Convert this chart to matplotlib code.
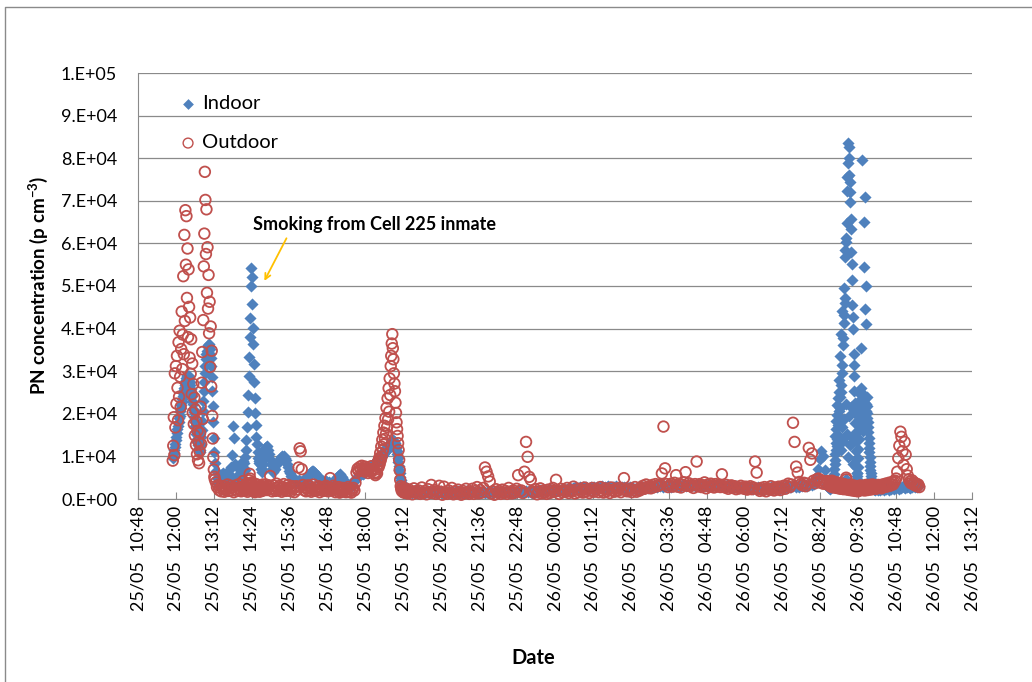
import numpy as np
import pandas as pd
import matplotlib.pyplot as plt
import matplotlib.dates as mdates
from matplotlib.lines import Line2D
from matplotlib.ticker import FuncFormatter

# logger blocks: start time and averaging interval (minutes); values in 10^3 p cm-3
block_starts = ["2013-05-25 11:54", "2013-05-25 13:14", "2013-05-25 14:09", "2013-05-25 14:49",
                "2013-05-25 18:20", "2013-05-25 19:20", "2013-05-26 08:41", "2013-05-26 10:06"]
block_steps = [1, 2, 1, 2, 1, 3, 0.5, 2]

indoor_1 = [9.6, 10.2, 10.8, 11.5, 12.3, 13.0, 13.8, 14.5, 15.6, 16.4,
            17.2, 18.0, 18.9, 19.5, 20.6, 21.3, 22.0, 22.8, 23.5, 24.1,
            24.9, 25.6, 26.0, 26.8, 27.2, 27.9, 28.3, 28.8, 29.2, 28.6,
            28.9, 28.1, 27.4, 26.8, 25.9, 25.0, 24.2, 23.1, 22.3, 21.2,
            20.4, 19.3, 18.1, 17.2, 16.0, 15.2, 14.1, 13.3, 12.6, 12.0,
            11.4, 11.1, 11.6, 12.8, 14.5, 16.3, 18.4, 20.7, 23.0, 25.4,
            27.5, 29.6, 31.3, 32.8, 34.0, 34.8, 35.6, 36.2, 36.4, 36.0,
            35.2, 34.0, 33.0, 31.2, 28.6, 25.4, 21.8, 18.0, 14.3, 11.0]
outdoor_1 = [9.0, 12.5, 19.2, 10.3, 29.5, 16.8, 31.2, 22.4, 33.6, 26.1,
             18.5, 36.8, 24.0, 39.5, 28.7, 21.6, 35.2, 44.0, 30.5, 38.6,
             52.3, 34.0, 62.0, 41.8, 67.8, 55.0, 66.4, 47.2, 58.8, 38.0,
             53.9, 45.1, 33.2, 42.6, 29.4, 37.5, 24.6, 31.8, 20.3, 27.0,
             17.6, 23.8, 14.9, 21.0, 12.7, 18.2, 10.5, 16.0, 9.1, 13.4,
             8.4, 11.2, 15.5, 21.7, 12.9, 27.3, 34.5, 18.8, 42.0, 54.6,
             62.3, 76.8, 70.2, 57.5, 68.0, 48.4, 59.1, 44.7, 52.6, 38.9,
             46.3, 31.0, 40.5, 26.4, 34.8, 19.5, 14.2, 9.8, 6.9, 5.2]

indoor_2 = [8.4, 6.6, 5.0, 3.9, 3.3, 3.6, 4.6, 5.8, 6.1, 5.0,
            4.1, 3.5, 4.4, 5.8, 7.0, 7.4, 10.3, 17.2, 14.4, 8.1,
            5.2, 4.5, 5.1, 5.6, 6.9, 7.8, 6.2, 8.9]
outdoor_2 = [4.6, 3.9, 2.8, 3.3, 2.1, 2.6, 1.8, 3.0, 2.4, 1.7,
             2.9, 2.2, 3.4, 1.9, 2.5, 3.1, 2.0, 2.7, 1.6, 2.3,
             3.2, 1.9, 2.6, 3.5, 2.2, 1.8, 2.8, 4.2]

indoor_3 = [7.2, 8.5, 6.9, 9.8, 11.6, 13.9, 16.8, 20.5, 24.3, 28.9,
            33.4, 38.1, 42.6, 49.9, 54.2, 52.1, 45.8, 40.2, 36.5, 31.7,
            27.4, 23.8, 20.1, 17.3, 14.6, 12.9, 11.0, 9.6, 8.4, 9.0,
            10.1, 9.2, 8.0, 7.1, 6.3, 7.0, 8.2, 9.4, 10.6, 11.5]
outdoor_3 = [2.3, 3.1, 1.9, 2.6, 3.4, 2.2, 2.8, 1.7, 3.6, 2.5,
             4.4, 5.9, 4.8, 3.2, 2.4, 3.9, 2.1, 2.7, 1.8, 3.0,
             2.4, 1.6, 2.9, 3.5, 2.2, 1.9, 2.6, 3.3, 2.0, 2.8,
             1.7, 2.4, 3.1, 2.2, 2.7, 1.9, 3.4, 2.5, 2.1, 2.9]

# afternoon, one row per hour starting 14:49
indoor_4 = [12.0, 12.3, 12.4, 11.6, 10.6, 9.4, 8.2, 7.1, 6.4, 6.8,
            7.1, 7.9, 8.6, 9.1, 9.5, 9.9, 10.1, 9.8, 10.2, 9.6,
            9.1, 8.2, 7.4, 6.6, 6.0, 5.5, 5.1, 4.7, 4.5, 4.8,
            4.2, 3.8, 4.4, 3.6, 4.0, 3.3, 3.9, 4.6, 3.7, 4.1,
            4.7, 5.2, 5.6, 6.0, 6.3, 6.5, 6.6, 6.4, 6.1, 5.7,
            5.3, 4.8, 4.4, 4.1, 3.8, 4.2, 3.5, 3.9, 4.3, 4.0,
            3.6, 4.1, 3.4, 3.0, 3.7, 3.3, 3.9, 4.4, 4.9, 5.3,
            5.6, 5.8, 5.5, 5.1, 4.6, 4.2, 3.8, 3.6, 3.1, 2.8,
            3.3, 2.6, 3.0, 3.4, 3.9, 4.3, 4.6, 4.9, 5.2, 5.6,
            5.9, 6.3, 6.1, 5.8, 6.2, 6.4, 6.6, 6.9, 7.0, 7.1,
            7.4, 7.6, 7.8, 8.0, 8.3, 8.7]
outdoor_4 = [2.6, 3.4, 2.1, 2.9, 3.2, 5.4, 2.4, 1.8, 3.2, 2.4,
             1.9, 3.6, 2.7, 2.0, 3.1, 2.3, 1.7, 2.8, 3.5, 2.2,
             1.9, 2.6, 3.3, 2.0, 2.7, 1.8, 3.0, 2.4, 1.6, 2.9,
             3.0, 2.2, 7.4, 11.9, 11.2, 7.0, 3.3, 2.1, 2.7, 1.8,
             2.4, 3.2, 2.0, 2.9, 1.7, 2.5, 3.4, 2.2, 1.9, 2.8,
             2.1, 3.0, 1.6, 2.6, 2.3, 1.9, 2.7, 2.0, 3.1, 2.4,
             1.8, 2.7, 4.9, 2.4, 2.0, 3.1, 2.3, 1.6, 2.5, 1.9,
             2.8, 1.5, 2.2, 1.7, 2.6, 1.9, 2.4, 1.6, 2.2, 2.8,
             1.7, 2.4, 1.5, 2.1, 2.6, 2.0, 3.8, 6.2, 7.1, 6.6,
             7.5, 6.9, 7.8, 7.2, 6.5, 7.6, 6.8, 7.3, 6.1, 7.0,
             6.4, 7.7, 6.6, 7.1, 6.0, 5.6]

indoor_5 = [8.9, 9.2, 8.6, 9.4, 9.0, 9.7, 9.3, 10.0, 9.5, 10.3,
            9.8, 10.6, 10.1, 10.9, 10.4, 11.2, 10.8, 11.5, 11.1, 11.9,
            11.4, 12.2, 11.8, 12.5, 12.1, 12.8, 12.4, 13.1, 12.7, 13.4,
            13.0, 13.6, 13.2, 13.8, 13.4, 13.5, 13.1, 12.6, 12.0, 11.3,
            10.5, 9.6, 8.7, 7.8, 6.9, 6.0, 5.2, 4.5, 3.9, 3.4,
            3.0, 2.7, 2.5, 2.3, 2.2, 2.0, 2.1, 1.9, 2.0, 1.8]
outdoor_5 = [6.3, 7.0, 6.0, 7.9, 8.8, 7.5, 9.6, 8.2, 10.8, 9.1,
             12.3, 10.0, 13.9, 11.4, 15.6, 12.8, 17.2, 14.1, 19.0, 15.3,
             21.4, 16.9, 23.6, 18.7, 26.0, 20.5, 28.3, 24.4, 31.2, 33.6,
             36.5, 38.7, 35.4, 32.8, 29.5, 27.1, 25.3, 22.6, 20.2, 18.0,
             16.4, 14.8, 13.1, 11.5, 9.2, 6.8, 4.5, 3.0, 2.4, 1.9,
             2.6, 1.7, 2.2, 1.5, 2.0, 1.8, 2.5, 1.6, 2.1, 1.4]

# overnight, one row per hour starting 19:20
indoor_6 = [1.8, 1.6, 1.9, 1.5, 1.7, 2.0, 1.6, 1.8, 1.5, 1.9, 1.7, 1.4, 1.6, 1.8, 1.5, 1.7, 1.9, 1.6, 1.4, 1.7,
            1.6, 1.8, 1.5, 1.7, 1.4, 1.6, 1.9, 1.5, 1.3, 1.7, 1.6, 1.4, 1.8, 1.5, 1.7, 1.6, 1.4, 1.8, 1.5, 1.6,
            1.5, 1.8, 1.6, 1.4, 1.7, 1.9, 1.5, 1.6, 1.8, 1.5, 1.7, 1.4, 1.6, 1.9, 1.5, 1.7, 1.6, 1.8, 1.4, 1.6,
            1.6, 1.5, 1.8, 1.7, 1.4, 1.9, 1.6, 1.8, 1.5, 1.7, 2.0, 1.6, 1.8, 1.5, 1.7, 1.9, 1.6, 1.8, 1.7, 1.5,
            1.7, 1.9, 1.6, 1.8, 2.1, 1.7, 1.9, 2.2, 1.8, 2.0, 2.3, 1.9, 2.1, 1.8, 2.0, 2.2, 1.9, 2.1, 2.3, 2.0,
            2.1, 2.4, 2.0, 2.6, 2.2, 2.5, 2.8, 2.3, 2.6, 2.9, 2.4, 2.7, 2.5, 2.8, 2.3, 2.6, 2.9, 2.4, 2.7, 2.5,
            2.7, 2.5, 2.8, 3.0, 2.6, 2.9, 2.7, 3.1, 2.8, 2.6, 2.9, 2.7, 3.0, 2.5, 2.8, 2.6, 2.9, 2.7, 2.5, 2.8,
            2.5, 2.7, 2.4, 2.6, 2.3, 2.5, 2.8, 2.4, 2.6, 2.7, 2.5, 2.8, 2.6, 2.9, 2.7, 3.0, 2.8, 3.1, 2.9, 3.2,
            3.0, 3.2, 2.9, 3.1, 3.3, 3.0, 3.2, 2.9, 3.1, 3.4, 3.0, 3.2, 3.3, 3.1, 3.4, 3.2, 3.0, 3.3, 3.1, 3.2,
            3.2, 3.4, 3.1, 3.3, 3.0, 3.2, 3.5, 3.2, 3.0, 3.3, 3.4, 3.1, 3.3, 3.0, 3.2, 3.4, 3.1, 3.3, 3.2, 3.0,
            3.1, 2.9, 3.2, 3.0, 2.8, 3.1, 2.9, 2.7, 3.0, 2.8, 2.6, 2.9, 2.7, 2.5, 2.8, 2.6, 2.7, 2.5, 2.6, 2.4,
            2.6, 2.4, 2.7, 2.3, 2.5, 2.2, 2.4, 2.6, 2.3, 2.5, 2.7, 2.4, 2.6, 2.3, 2.5, 2.7, 2.4, 2.6, 2.5, 2.7,
            2.6, 2.8, 2.9, 2.7, 3.0, 3.2, 2.8, 3.1, 2.9, 3.3, 3.0, 3.2, 3.4, 3.1, 3.3, 3.5, 3.2, 3.6, 4.2, 5.3,
            7.1, 9.4, 11.3, 10.2, 6.8, 3.4, 2.9]
outdoor_6 = [1.3, 2.2, 1.6, 1.1, 2.5, 1.8, 1.4, 2.0, 1.2, 2.7, 1.5, 1.9, 1.1, 2.3, 1.6, 3.3, 1.4, 2.1, 1.2, 1.8,
             3.1, 1.7, 1.0, 2.9, 1.5, 1.2, 2.0, 1.4, 2.6, 1.1, 1.8, 1.3, 2.2, 1.5, 1.0, 1.9, 1.3, 2.4, 1.6, 1.2,
             1.6, 2.4, 1.2, 1.9, 2.8, 1.3, 2.1, 1.5, 2.6, 7.4, 6.4, 5.3, 4.1, 1.3, 1.8, 1.0, 2.3, 1.5, 1.9, 1.2,
             2.2, 1.4, 1.9, 1.2, 2.6, 1.7, 1.3, 2.0, 1.5, 2.4, 5.6, 1.8, 2.0, 1.4, 6.4, 13.4, 9.9, 5.2, 4.5, 1.8,
             1.5, 2.3, 1.1, 1.8, 2.5, 1.3, 2.0, 1.6, 1.2, 2.2, 1.4, 1.9, 2.6, 1.7, 4.5, 1.9, 1.2, 2.4, 1.6, 2.1,
             1.7, 2.6, 1.4, 2.1, 1.8, 2.9, 1.3, 2.2, 1.6, 2.4, 1.9, 1.5, 2.7, 1.8, 2.3, 1.4, 2.0, 2.6, 1.7, 2.2,
             2.3, 1.6, 2.8, 2.0, 1.5, 2.5, 1.8, 2.2, 1.4, 2.7, 2.1, 1.7, 2.4, 1.9, 2.6, 1.6, 2.3, 4.9, 2.1, 1.8,
             1.9, 2.4, 1.6, 2.1, 2.8, 1.7, 2.3, 2.0, 2.6, 3.1, 2.4, 3.4, 2.7, 3.0, 2.5, 3.3, 2.8, 3.5, 3.0, 3.2,
             3.4, 6.0, 17.0, 7.2, 3.5, 2.8, 3.2, 3.6, 2.9, 3.8, 5.6, 2.9, 3.6, 2.7, 3.3, 3.9, 6.3, 3.1, 3.7, 3.0,
             3.3, 2.6, 3.5, 8.8, 3.0, 3.5, 2.8, 3.2, 3.9, 2.5, 3.4, 2.9, 3.6, 3.1, 2.7, 3.5, 3.0, 3.3, 2.8, 5.8,
             3.0, 2.7, 3.3, 2.4, 2.9, 3.2, 2.6, 3.0, 2.3, 2.8, 2.5, 3.1, 2.7, 2.4, 2.9, 2.2, 2.6, 3.0, 2.3, 2.7,
             8.8, 6.2, 2.4, 1.9, 2.6, 2.1, 2.8, 1.8, 2.5, 2.2, 3.0, 2.4, 2.0, 2.7, 2.3, 2.9, 2.1, 2.6, 3.1, 2.4,
             3.1, 3.6, 2.8, 3.4, 17.9, 13.4, 7.6, 6.2, 4.0, 3.5, 3.2, 3.8, 3.0, 3.6, 12.0, 9.2, 10.7, 4.3, 3.7, 4.6,
             4.8, 3.9, 4.4, 3.6, 4.1, 3.5, 4.2]

# morning spike, 30 s readings, one row per 10 min starting 08:41
indoor_7 = [2.6, 2.8, 2.9, 2.6, 2.4, 2.8, 3.1, 2.9, 2.7, 3.0, 3.3, 3.0, 2.8, 3.2, 3.5, 3.8, 4.2, 5.0, 5.8, 7.0,
            8.1, 9.2, 10.6, 14.8, 13.2, 11.5, 16.5, 18.2, 12.4, 14.0, 19.8, 22.0, 15.1, 17.3, 23.6, 20.7, 18.4, 25.1, 27.9, 24.0,
            21.3, 14.2, 33.5, 26.8, 25.2, 11.6, 38.7, 31.4, 29.6, 16.9, 44.2, 37.8, 36.1, 13.5, 49.6, 43.2, 41.4, 18.8, 56.8, 46.0,
            47.3, 58.5, 61.2, 22.4, 4.6, 60.3, 64.9, 15.2, 72.4, 75.6, 78.8, 9.8, 83.5, 80.1, 82.7, 19.5, 76.1, 72.0, 69.8, 12.6,
            74.3, 65.8, 63.4, 21.7, 58.0, 55.1, 51.5, 14.4, 45.6, 42.7, 39.9, 8.2, 34.1, 31.5, 28.8, 25.4, 22.5, 20.1, 17.9, 15.5,
            13.6, 11.2, 9.4, 7.6, 6.2, 5.3, 4.8, 6.0, 7.5, 9.6, 11.8, 14.0, 16.3, 18.8, 21.0, 23.2, 24.6, 22.1, 19.2, 21.4,
            23.1, 26.0, 35.5, 20.4, 17.4, 24.8, 79.5, 18.6, 21.5, 15.9, 54.5, 22.7, 65.0, 19.1, 44.5, 23.9, 71.0, 17.0, 41.0, 20.6,
            50.0, 22.3, 24.0, 21.8, 20.3, 19.0, 18.1, 16.9, 15.7, 14.3, 13.2, 12.0, 11.0, 9.8, 8.6, 7.7, 6.9, 6.0, 5.3, 4.7,
            4.2, 3.8, 3.4, 3.1, 2.9, 2.7, 2.6, 2.5, 2.3, 2.4]
outdoor_7 = [3.8, 3.4, 3.2, 3.9, 4.1, 3.5, 2.9, 3.3, 3.6, 4.0, 4.3, 3.7, 3.0, 3.5, 3.7, 3.2, 2.7, 3.1, 3.4, 3.8,
             4.0, 3.3, 2.8, 3.6, 3.5, 2.9, 3.1, 3.7, 2.6, 3.2, 3.9, 3.4, 2.9, 3.5, 3.3, 2.8, 2.5, 3.1, 3.7, 3.3,
             2.8, 3.5, 3.2, 2.7, 2.4, 3.1, 3.0, 3.6, 3.6, 2.9, 2.7, 3.3, 3.1, 2.5, 2.3, 2.9, 2.9, 3.4, 3.4, 2.8,
             2.6, 3.1, 3.0, 2.5, 5.0, 4.6, 2.8, 3.3, 2.2, 2.7, 2.5, 3.0, 3.2, 2.6, 2.4, 2.9, 2.9, 3.3, 2.1, 2.6,
             2.7, 3.1, 3.3, 2.6, 2.3, 2.8, 2.8, 3.2, 2.0, 2.5, 2.6, 3.0, 3.1, 2.4, 2.2, 2.7, 2.7, 3.1, 1.9, 2.4,
             2.5, 2.9, 3.0, 2.4, 2.1, 2.7, 2.6, 3.0, 1.8, 2.3, 2.4, 2.8, 2.9, 2.3, 2.0, 2.6, 2.5, 2.9, 3.2, 2.7,
             2.3, 2.7, 2.8, 2.2, 2.1, 2.6, 2.6, 3.0, 3.0, 2.5, 2.2, 2.7, 2.7, 3.1, 2.0, 2.4, 2.5, 2.9, 2.9, 3.3,
             2.3, 2.8, 2.8, 3.2, 2.1, 2.5, 2.6, 3.0, 3.1, 2.6, 2.4, 2.9, 2.9, 3.3, 2.2, 2.6, 2.7, 3.1, 3.2, 2.8,
             2.5, 2.9, 3.0, 3.4, 2.3, 2.7, 2.8, 3.1, 3.3, 3.0]

indoor_8 = [2.4, 2.1, 2.6, 2.3, 2.0, 2.5, 2.2, 2.7, 2.4, 2.1,
            2.6, 2.3, 2.8, 2.5, 2.2, 2.7, 2.4, 2.9, 2.6, 2.3,
            2.8, 2.5, 3.0, 2.7, 2.4, 2.9, 2.6, 3.1, 2.8, 2.5,
            3.0, 2.7, 3.2, 2.9, 2.6, 3.1, 2.8, 3.3, 3.0, 2.7,
            3.2, 2.9, 3.4, 3.1]
outdoor_8 = [2.6, 3.1, 2.4, 2.9, 3.3, 2.7, 3.0, 2.5, 3.4, 2.8,
             3.2, 3.6, 2.9, 3.3, 3.8, 3.1, 3.5, 4.0, 3.4, 3.9,
             4.3, 4.8, 6.4, 9.6, 12.5, 15.8, 14.6, 11.2, 8.0, 13.4,
             10.4, 7.0, 5.5, 4.6, 4.1, 3.7, 4.4, 3.5, 3.9, 3.2,
             3.6, 3.0, 3.4, 2.8]

indoor_blocks = [indoor_1, indoor_2, indoor_3, indoor_4, indoor_5, indoor_6, indoor_7, indoor_8]
outdoor_blocks = [outdoor_1, outdoor_2, outdoor_3, outdoor_4, outdoor_5, outdoor_6, outdoor_7, outdoor_8]


def stitch(blocks):
    times, vals = [], []
    for start, step, v in zip(block_starts, block_steps, blocks):
        t = pd.Timestamp(start) + pd.to_timedelta(np.arange(len(v)) * step * 60, unit="s")
        times.append(mdates.date2num(t.to_pydatetime()))
        vals.append(np.array(v) * 1000)
    return np.concatenate(times), np.concatenate(vals)


def num(ts):
    return mdates.date2num(pd.Timestamp(ts).to_pydatetime())


ind_t, ind_v = stitch(indoor_blocks)
out_t, out_v = stitch(outdoor_blocks)

plt.rcParams['font.family'] = ['Lato', 'DejaVu Sans']
plt.rcParams['mathtext.default'] = 'regular'

W, H = 1032, 682
fig = plt.figure(figsize=(W / 100, H / 100), dpi=100)
fig.patch.set_facecolor('white')
# chart area frame (top and left edges)
fig.add_artist(Line2D([5 / W, 5 / W, 1], [0, 1 - 7 / H, 1 - 7 / H], transform=fig.transFigure,
                      color='#8a8a8a', lw=1.0))

ax = fig.add_axes([138 / W, 1 - 499 / H, 834 / W, 426 / H])

ax.scatter(ind_t, ind_v, marker='D', s=38, color='#4F81BD', linewidths=0,
           label='Indoor', zorder=2, clip_on=False)
ax.scatter(out_t, out_v, marker='o', s=58, facecolors='none', edgecolors='#C0504D',
           linewidths=1.3, label='Outdoor', zorder=3, clip_on=False)

# axes
x0 = pd.Timestamp("2013-05-25 10:48")
x1 = pd.Timestamp("2013-05-26 13:12")
ticks = pd.date_range(x0, x1, freq="72min")
ax.set_xlim(num(x0), num(x1))
ax.set_xticks(mdates.date2num(ticks.to_pydatetime()))
ax.set_xticklabels([t.strftime("%d/%m  %H:%M") for t in ticks], rotation=90, fontsize=13)

ax.set_ylim(0, 100000)
ax.set_yticks(np.arange(0, 100001, 10000))


def sci_label(v, pos):
    if v <= 0:
        return "0.E+00"
    e = int(np.floor(np.log10(v) + 1e-9))
    return f"{v / 10 ** e:.0f}.E+{e:02d}"


ax.yaxis.set_major_formatter(FuncFormatter(sci_label))
ax.tick_params(axis='y', length=0, pad=15, labelsize=13)
ax.tick_params(axis='x', direction='in', length=5, color='#8a8a8a', pad=5)

for side in ['top', 'right']:
    ax.spines[side].set_visible(False)
for side in ['left', 'bottom']:
    ax.spines[side].set_color('#8a8a8a')
ax.grid(axis='y', color='#8a8a8a', lw=0.9)
ax.set_axisbelow(True)

fig.text(38 / W, 1 - 285 / H, r"PN concentration (p cm$^{-3}$)", rotation=90,
         ha='center', va='center', fontsize=13.5, fontweight='bold')
fig.text(533 / W, 1 - 658 / H, "Date", ha='center', va='center', fontsize=14.5, fontweight='bold')

leg = ax.legend(loc='upper left', bbox_to_anchor=((180 - 138) / 834, (499 - 95) / 426),
                frameon=False, borderpad=0, borderaxespad=0, handlelength=0.8, handletextpad=0.3,
                labelspacing=1.1, fontsize=14.5, scatterpoints=1)
leg.legend_handles[0].set_sizes([30])
leg.legend_handles[1].set_sizes([50])
leg.legend_handles[1].set_linewidth(1.0)

# annotation for the afternoon spike
ax.text(num("2013-05-25 14:26"), 64500, "Smoking from Cell 225 inmate", ha='left', va='center',
        fontsize=13, fontweight='bold')
ax.annotate("", xy=(num("2013-05-25 14:48"), 51200), xytext=(num("2013-05-25 15:30"), 61200),
            arrowprops=dict(arrowstyle='->', color='#FFC000', lw=1.3, shrinkA=0, shrinkB=0))

fig.savefig("out.png", dpi=100)
